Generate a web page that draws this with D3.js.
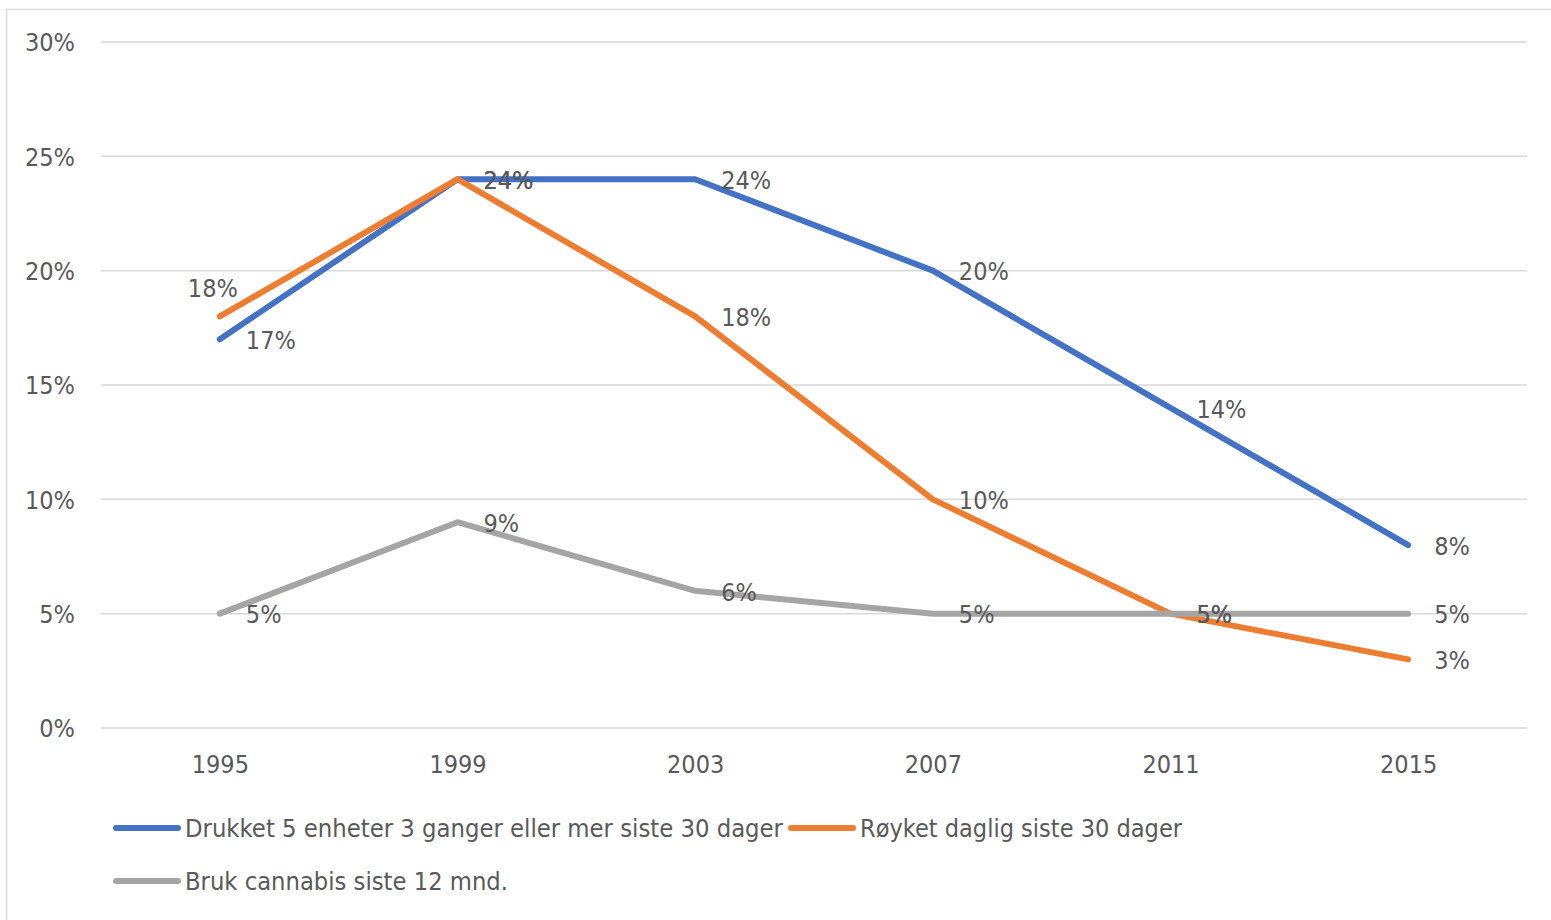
<!DOCTYPE html>
<html>
<head>
<meta charset="utf-8">
<script src="https://cdn.jsdelivr.net/npm/d3@7"></script>
<style>
  html, body { margin: 0; padding: 0; background: #fff; }
  svg { display: block; }
  text { font-family: "Liberation Sans Narrow", "DejaVu Sans Condensed", "Open Sans", sans-serif; fill: #595959; }
</style>
</head>
<body>
<svg id="chart" width="1551" height="920"></svg>
<script>
// Survey years
const years = ["1995", "1999", "2003", "2007", "2011", "2015"];

// Share of respondents (%) per year
const drukket = [17, 24, 24, 20, 14, 8];
const royket = [18, 24, 18, 10, 5, 3];
const cannabis = [5, 9, 6, 5, 5, 5];

const seriesNames = [
  "Drukket 5 enheter 3 ganger eller mer siste 30 dager",
  "Røyket daglig siste 30 dager",
  "Bruk cannabis siste 12 mnd."
];

const yTicks = [0, 5, 10, 15, 20, 25, 30];

const series = [
  { name: seriesNames[0], values: drukket, color: "#4472C4" },
  { name: seriesNames[1], values: royket, color: "#ED7D31" },
  { name: seriesNames[2], values: cannabis, color: "#A5A5A5" }
];

const FS = 25;
const svg = d3.select("#chart");

// outer chart frame
svg.append("rect")
  .attr("x", 6.5).attr("y", 9.5)
  .attr("width", 1700).attr("height", 1000)
  .attr("fill", "none").attr("stroke", "#D9D9D9").attr("stroke-width", 1.5);

const plot = { left: 101, right: 1527, top: 42, bottom: 728 };

const x = d3.scalePoint().domain(years).range([plot.left, plot.right]).padding(0.5);
const y = d3.scaleLinear().domain([0, 30]).range([plot.bottom, plot.top]);

// horizontal gridlines
svg.append("g")
  .selectAll("line").data(yTicks).join("line")
  .attr("x1", plot.left).attr("x2", plot.right)
  .attr("y1", d => y(d)).attr("y2", d => y(d))
  .attr("stroke", "#D9D9D9").attr("stroke-width", 1.5);

// y axis labels
const yAxis = d3.axisLeft(y).tickValues(yTicks).tickFormat(d => d + "%").tickSize(0).tickPadding(0);
const gy = svg.append("g").attr("transform", `translate(75,0)`).call(yAxis);
gy.select(".domain").remove();
gy.attr("font-family", null).attr("font-size", null);
gy.selectAll("text").attr("font-size", FS).attr("fill", "#595959").attr("dy", "0.35em");

// x axis labels
const xAxis = d3.axisBottom(x).tickSize(0).tickPadding(0);
const gx = svg.append("g").attr("transform", `translate(0,${plot.bottom + 36})`).call(xAxis);
gx.select(".domain").remove();
gx.attr("font-family", null).attr("font-size", null);
gx.selectAll("text").attr("font-size", FS).attr("fill", "#595959").attr("dy", "0.35em");

// series lines
const line = d3.line()
  .x((d, i) => x(years[i]))
  .y(d => y(d));

svg.append("g").selectAll("path").data(series).join("path")
  .attr("d", s => line(s.values))
  .attr("fill", "none")
  .attr("stroke", s => s.color)
  .attr("stroke-width", 6)
  .attr("stroke-linejoin", "round")
  .attr("stroke-linecap", "round");

// value labels: right of each point, except where noted
const abovePoints = { "1-0": true };
const labelG = svg.append("g");
series.forEach((s, si) => {
  s.values.forEach((v, i) => {
    const px = x(years[i]), py = y(v);
    const above = abovePoints[si + "-" + i];
    labelG.append("text")
      .attr("x", above ? px - 7 : px + 26)
      .attr("y", above ? py - 28 : py + 1)
      .attr("text-anchor", above ? "middle" : "start")
      .attr("dy", "0.35em")
      .attr("font-size", FS)
      .text(v + "%");
  });
});

// legend
const legendItems = [
  { s: series[0], x: 116, y: 828, w: 598 },
  { s: series[1], x: 791, y: 828, w: 322 },
  { s: series[2], x: 116, y: 881, w: 323 }
];
const lg = svg.append("g");
legendItems.forEach(it => {
  lg.append("line")
    .attr("x1", it.x).attr("x2", it.x + 62)
    .attr("y1", it.y).attr("y2", it.y)
    .attr("stroke", it.s.color).attr("stroke-width", 6)
    .attr("stroke-linecap", "round");
  lg.append("text")
    .attr("x", it.x + 69).attr("y", it.y)
    .attr("dy", "0.35em")
    .attr("font-size", FS)
    .attr("textLength", it.w)
    .attr("lengthAdjust", "spacingAndGlyphs")
    .text(it.s.name);
});
</script>
</body>
</html>
